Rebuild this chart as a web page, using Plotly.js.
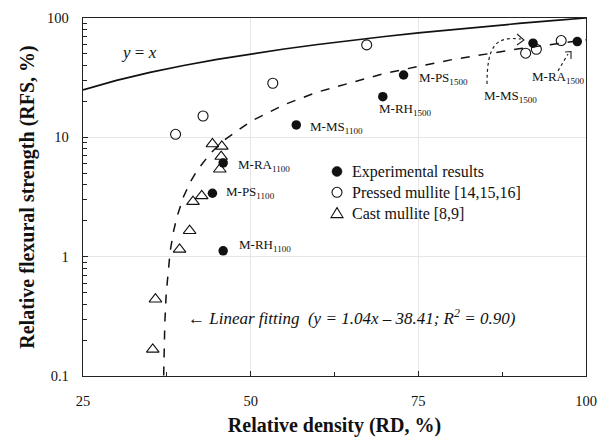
<!DOCTYPE html>
<html><head><meta charset="utf-8">
<script src="https://cdn.plot.ly/plotly-3.0.1.min.js"></script>
<style>html,body{margin:0;padding:0;background:#fff}#chart{width:603px;height:439px}</style>
</head><body><div id="chart"></div>
<script>
// Experimental results (filled circles)
const expLabels = ["M-RA<sub>1100</sub>","M-PS<sub>1100</sub>","M-RH<sub>1100</sub>","M-MS<sub>1100</sub>","M-RH<sub>1500</sub>","M-PS<sub>1500</sub>","M-MS<sub>1500</sub>","M-RA<sub>1500</sub>"];
const expRD  = [45.9, 44.3, 45.9, 56.8, 69.7, 72.8, 92.1, 98.7];
const expRFS = [6.1, 3.4, 1.12, 12.7, 21.9, 33.3, 61.5, 63.4];
// Pressed mullite [14,15,16] (open circles)
const pressRD  = [38.8, 42.9, 53.3, 67.3, 91.0, 92.6, 96.3];
const pressRFS = [10.6, 15.1, 28.4, 59.5, 50.7, 54.7, 64.7];
// Cast mullite [8,9] (open triangles)
const castRD  = [44.3, 45.7, 45.6, 45.4, 42.7, 41.4, 40.9, 39.4, 35.8, 35.4];
const castRFS = [8.8, 8.4, 6.9, 5.4, 3.23, 2.89, 1.65, 1.15, 0.44, 0.167];
// y = x reference line
const identityX = [25, 30, 35, 40, 45, 50, 55, 60, 65, 70, 75, 80, 85, 90, 95, 100];
const identityY = [25, 30, 35, 40, 45, 50, 55, 60, 65, 70, 75, 80, 85, 90, 95, 100];
// Linear fitting y = 1.04x - 38.41
const fitX = [37.03, 37.1, 37.2, 37.4, 37.7, 38, 38.5, 39, 40, 41, 42, 44, 46, 50, 55, 60, 70, 80, 90, 100];
const fitY = [0.101, 0.174, 0.278, 0.486, 0.798, 1.11, 1.63, 2.15, 3.19, 4.23, 5.27, 7.35, 9.43, 13.59, 18.79, 23.99, 34.39, 44.79, 55.19, 65.59];
// Legend names
const seriesNames = ["Experimental results", "Pressed mullite [14,15,16]", "Cast mullite [8,9]"];
// Axis ticks
const xTicks = [25, 50, 75, 100];
const xTickText = ["25", "50", "75", "100"];
const yTicks = [0.1, 1, 10, 100];
const yTickText = ["0.1", "1", "10", "100"];

const SERIF = '"Liberation Serif","Times New Roman",serif';
const INK = '#111';
// pixel -> paper helpers for decorations
const L = 83, R = 586, T = 18, B = 376;
const px = p => (p - L) / (R - L);
const py = p => (B - p) / (B - T);

const traces = [
  {x: identityX, y: identityY, mode: 'lines', line: {color: INK, width: 1.7}, showlegend: false, hoverinfo: 'skip'},
  {x: fitX, y: fitY, mode: 'lines', line: {color: INK, width: 1.5, dash: 'dash'}, showlegend: false, hoverinfo: 'skip'},
  {x: castRD, y: castRFS, mode: 'markers', name: seriesNames[2], showlegend: false,
   marker: {symbol: 'triangle-up-open', size: 11, color: INK, line: {width: 1.1}}},
  {x: pressRD, y: pressRFS, mode: 'markers', name: seriesNames[1], showlegend: false,
   marker: {symbol: 'circle-open', size: 10, color: INK, line: {width: 1.1}}},
  {x: expRD, y: expRFS, mode: 'markers', name: seriesNames[0], text: expLabels, showlegend: false,
   marker: {symbol: 'circle', size: 9.5, color: INK}}
];

const labelPos = [[236,165],[224,192],[237,245],[308,127],[377,110],[417,79],[482,97],[530,77]];
const annotations = expLabels.map((t, i) => ({
  xref: 'paper', yref: 'paper', x: px(labelPos[i][0]), y: py(labelPos[i][1]),
  xanchor: 'left', yanchor: 'middle', showarrow: false, text: t,
  font: {family: SERIF, size: 13, color: INK}
}));
annotations.push({xref: 'paper', yref: 'paper', x: px(119), y: py(53), xanchor: 'left', yanchor: 'middle',
  showarrow: false, text: '<i>y</i> = <i>x</i>', font: {family: SERIF, size: 17, color: INK}});
annotations.push({xref: 'paper', yref: 'paper', x: px(186), y: py(317), xanchor: 'left', yanchor: 'middle',
  showarrow: false, text: '← <i>Linear fitting  (y = 1.04x – 38.41; R<sup>2</sup> = 0.90)</i>',
  font: {family: SERIF, size: 17, color: INK}});

// custom legend (symbols + names in one block)
const LEG_FONT = 16;
const legendMid = 192.3;
const rowGap = LEG_FONT * 1.3;
const legendRows = [legendMid - rowGap, legendMid, legendMid + rowGap];
const legendX = 337;
annotations.push({
  xref: 'paper', yref: 'paper', x: px(legendX + 13), y: py(legendMid), xanchor: 'left', yanchor: 'middle',
  align: 'left', showarrow: false, text: seriesNames.join('<br>'), font: {family: SERIF, size: LEG_FONT, color: INK}
});

function pth(pts, close) {
  return pts.map((p, i) => (i ? 'L' : 'M') + px(p[0]).toFixed(4) + ',' + py(p[1]).toFixed(4)).join(' ') + (close ? ' Z' : '');
}
function curve(a, c1, c2, b) {
  return 'M' + px(a[0]).toFixed(4) + ',' + py(a[1]).toFixed(4) +
    ' C' + [c1, c2, b].map(p => px(p[0]).toFixed(4) + ',' + py(p[1]).toFixed(4)).join(' ');
}
function circ(cx, cy, r, filled) {
  return {type: 'circle', xref: 'paper', yref: 'paper', x0: px(cx - r), x1: px(cx + r), y0: py(cy + r), y1: py(cy - r),
    line: {color: INK, width: filled ? 0.5 : 1.1}, fillcolor: filled ? INK : 'rgba(0,0,0,0)'};
}
const shapes = [
  {type: 'path', xref: 'paper', yref: 'paper', path: curve([487, 84], [487, 45], [496, 36], [521, 39]),
   line: {color: '#222', width: 1.2, dash: 'dot'}},
  {type: 'path', xref: 'paper', yref: 'paper', path: pth([[517, 34], [524, 40], [517, 45]]),
   line: {color: '#222', width: 1.1}},
  {type: 'path', xref: 'paper', yref: 'paper', path: pth([[558, 71], [568, 54]]),
   line: {color: '#222', width: 1.2, dash: 'dot'}},
  {type: 'path', xref: 'paper', yref: 'paper', path: pth([[565, 52], [571, 51.5], [571, 59]]),
   line: {color: '#222', width: 1.1}},
  circ(legendX, legendRows[0], 5, true),
  circ(legendX, legendRows[1], 5, false),
  {type: 'path', xref: 'paper', yref: 'paper', path: pth([[legendX - 6, legendRows[2] + 4.5], [legendX + 6, legendRows[2] + 4.5], [legendX, legendRows[2] - 5.5]], true),
   line: {color: INK, width: 1.1}}
];

const layout = {
  width: 603, height: 439,
  margin: {l: L, r: 603 - R, t: T, b: 439 - B},
  paper_bgcolor: '#fff', plot_bgcolor: '#fff',
  font: {family: SERIF, color: INK, size: 14.5},
  showlegend: false,
  xaxis: {
    range: [25, 100], tickvals: xTicks, ticktext: xTickText,
    ticks: 'inside', ticklen: 5, tickcolor: '#222', ticklabelstandoff: 11,
    showline: true, linecolor: '#222', linewidth: 1.3, mirror: true,
    showgrid: true, gridcolor: '#e6e6e6', gridwidth: 1, zeroline: false,
    minor: {dtick: 12.5, ticks: 'inside', ticklen: 4, tickcolor: '#222', showgrid: false},
    title: {text: '<b>Relative density (RD, %)</b>', font: {family: SERIF, size: 20, color: INK}, standoff: 10}
  },
  yaxis: {
    type: 'log', range: [-1, 2], tickvals: yTicks, ticktext: yTickText,
    ticks: 'inside', ticklen: 5, tickcolor: '#222', ticklabelstandoff: 10,
    showline: true, linecolor: '#222', linewidth: 1.3, mirror: true,
    showgrid: true, gridcolor: '#e6e6e6', gridwidth: 1, zeroline: false,
    minor: {dtick: 'D1', ticks: 'inside', ticklen: 4, tickcolor: '#222', showgrid: false},
    title: {text: '<b>Relative flexural strength (RFS, %)</b>', font: {family: SERIF, size: 20, color: INK}, standoff: 7}
  },
  annotations: annotations,
  shapes: shapes
};
Plotly.newPlot('chart', traces, layout, {displayModeBar: false, staticPlot: true});
</script></body></html>
